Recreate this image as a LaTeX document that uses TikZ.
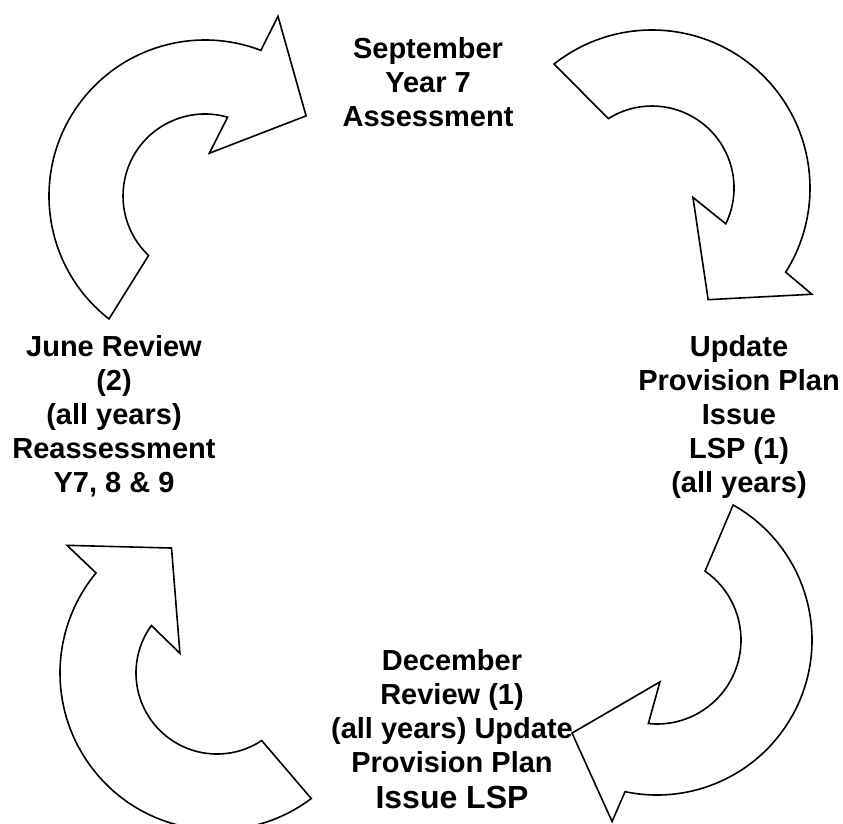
\documentclass[tikz,border=0pt]{standalone}
\usepackage{fontspec}
\setmainfont{Liberation Sans}
\usepackage{tikz}
\tikzset{
  stage_/.style = {align=center, inner sep=0pt, font=\fontsize{29}{34}\selectfont\bfseries},
  loop_/.style  = {draw, line width=1.6pt, line join=miter}
}
\begin{document}
\begin{tikzpicture}
		[
		x = 1pt,
		y = 1pt
		]
		\useasboundingbox (0,0) rectangle (843,-823);
		\clip (0,0) rectangle (843,-823);
		% centres of the four curved arrows
		\coordinate (sepC) at (205,-196);
		\coordinate (updC) at (652,-188);
		\coordinate (decC) at (657,-640);
		\coordinate (junC) at (217,-673);
		\draw [loop_, shift={(sepC)}] (232:156) arc [start angle=232, end angle=69, radius=156]
			-- (67.9:194) -- (38.4:129) -- (84.2:43)
			-- (74:82) arc [start angle=74, end angle=226.5, radius=82] -- cycle;
		\draw [loop_, shift={(updC)}] (128.3:158) arc [start angle=128.3, end angle=-32.2, radius=158]
			-- (-33.6:192) -- (-63.3:125) -- (-12.9:42)
			-- (-25.9:82) arc [start angle=-25.9, end angle=122.2, radius=82] -- cycle;
		\draw [loop_, shift={(decC)}] (60.6:155) arc [start angle=60.6, end angle=-101.9, radius=155]
			-- (-103.9:187) -- (-132.4:126) -- (-86:42)
			-- (-95.9:84) arc [start angle=-95.9, end angle=55.1, radius=84] -- cycle;
		\draw [loop_, shift={(junC)}] (-53.1:157) arc [start angle=-53.1, end angle=-219.6, radius=157]
			-- (139.6:197) -- (110:133) -- (152:42)
			-- (144.1:81) arc [start angle=144.1, end angle=303.5, radius=81] -- cycle;
		% stages
		\node [stage_] (sept) at (428,-82) {September\\Year 7\\Assessment};
		\node [stage_] (update) at (739,-417) {Update\\Provision Plan\\Issue\\LSP (1)\\(all years)};
		\node [stage_] (dec) at (452,-729) {December\\Review (1)\\(all years) Update\\Provision Plan\\[2pt]{\fontsize{32}{36}\selectfont Issue LSP}};
		\node [stage_] (june) at (114,-416) {June Review\\(2)\\(all years)\\Reassessment\\Y7, 8 \& 9};
\end{tikzpicture}
\end{document}
